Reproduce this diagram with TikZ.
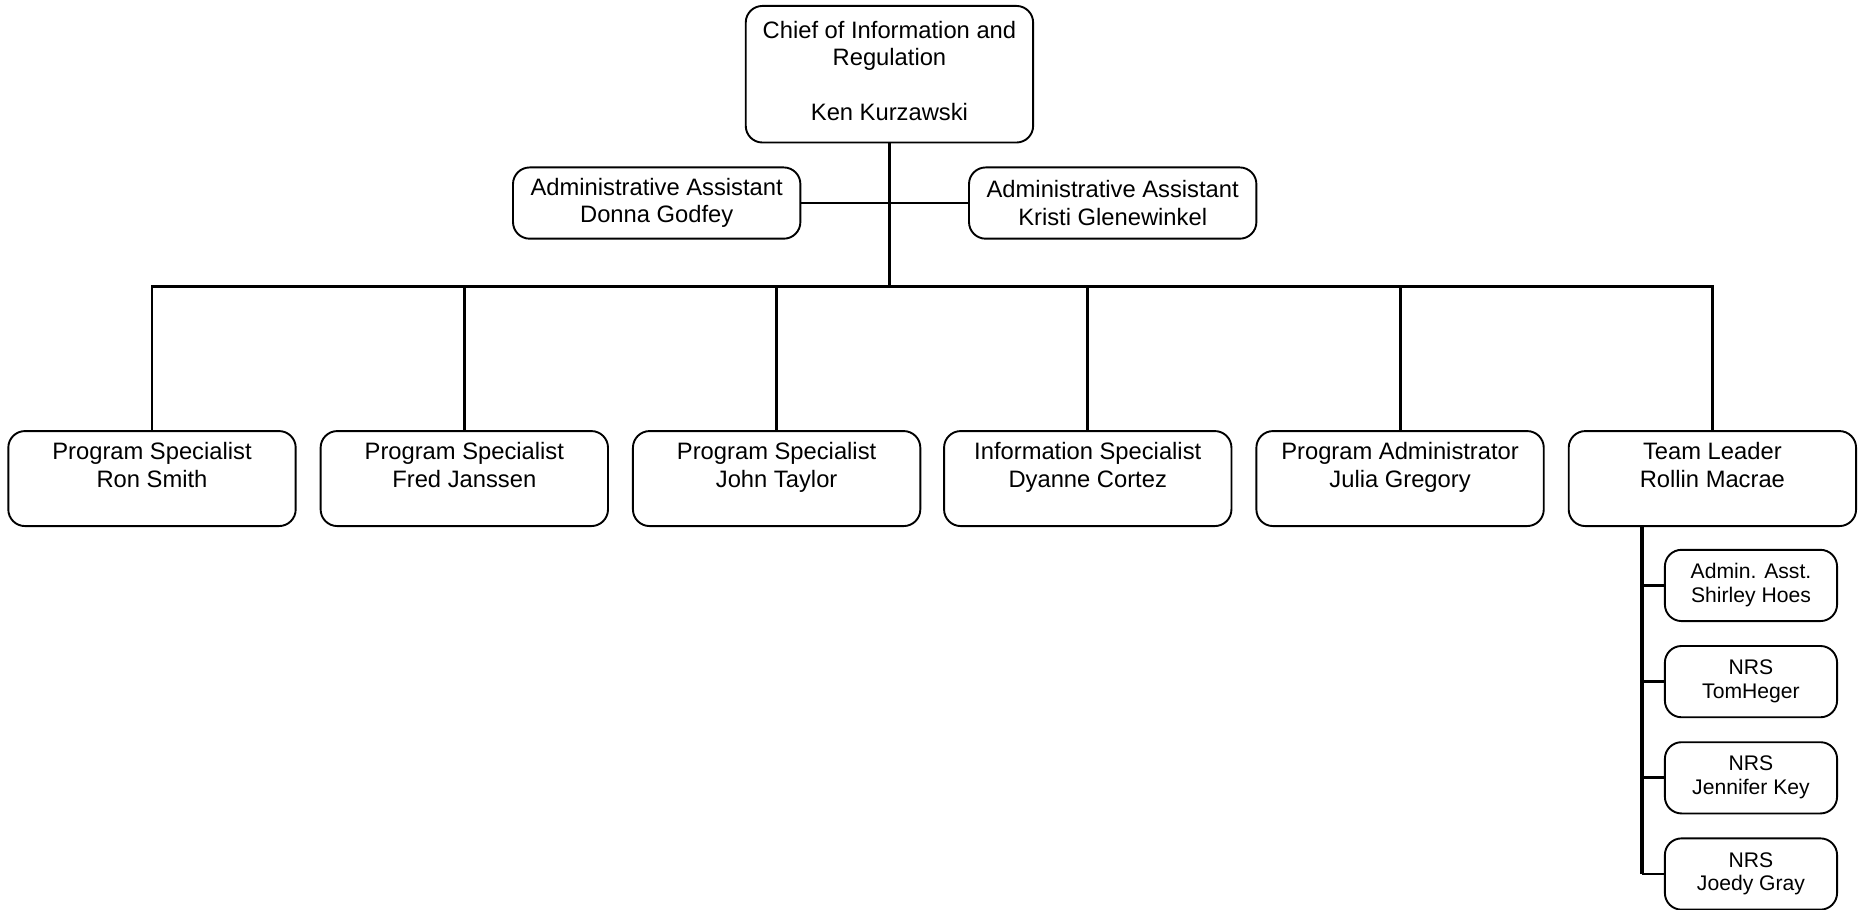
\documentclass[tikz,border=0pt]{standalone}
\usepackage{fontspec}
\setmainfont{Liberation Sans}
\begin{document}
\begin{tikzpicture}[x=0.5pt,y=-0.5pt,
  box/.style={draw, rounded corners=7pt, line width=0.8pt, align=center, inner sep=0pt, font=\fontsize{10}{11.5}\selectfont},
  big/.style={box, minimum width=121pt, minimum height=40pt},
  adm/.style={box, minimum width=121pt, minimum height=30pt},
  small/.style={box, minimum width=72.5pt, minimum height=30pt, font=\fontsize{8.9}{10}\selectfont},
  conn/.style={line width=1.2pt},
  trunk/.style={line width=1.6pt}]
\useasboundingbox (0,0) rectangle (1568,766);

\node[box, minimum width=121pt, minimum height=57.5pt] (chief) at (749,62.5)
  {Chief of Information and\\Regulation\\ \\Ken Kurzawski\rule[-3pt]{0pt}{0pt}};

\node[adm] (a1) at (553,171) {Administrative Assistant\\Donna Godfey};
\node[adm] (a2) at (937,171) {Administrative Assistant\\Kristi Glenewinkel};

\node[big] (p1) at (128,403) {Program Specialist\\Ron Smith\\ };
\node[big] (p2) at (391,403) {Program Specialist\\Fred Janssen\\ };
\node[big] (p3) at (654,403) {Program Specialist\\John Taylor\\ };
\node[big] (p4) at (916,403) {Information Specialist\\Dyanne Cortez\\ };
\node[big] (p5) at (1179,403) {Program Administrator\\Julia Gregory\\ };
\node[big] (p6) at (1442,403) {Team Leader\\Rollin Macrae\\ };

\node[small] (s1) at (1474.5,493) {Admin. Asst.\\Shirley Hoes\rule[-2pt]{0pt}{0pt}};
\node[small] (s2) at (1474.5,574) {NRS\\TomHeger\rule[-2pt]{0pt}{0pt}};
\node[small] (s3) at (1474.5,655) {NRS\\Jennifer Key\rule[-2pt]{0pt}{0pt}};
\node[small] (s4) at (1474.5,736) {NRS\\Joedy Gray\rule[-2pt]{0pt}{0pt}};

\coordinate (bar) at (749,241);
\coordinate (spine) at (1383,0);

\draw[trunk] (chief.south) -- (bar);
\draw[conn] (a1.east) -- (a2.west);
\draw[conn] (p1.north) -- (p1.north |- bar) -- (p6.north |- bar) -- (p6.north);
\draw[conn] (p2.north) -- (p2.north |- bar);
\draw[conn] (p3.north) -- (p3.north |- bar);
\draw[conn] (p4.north) -- (p4.north |- bar);
\draw[conn] (p5.north) -- (p5.north |- bar);

\draw[trunk] (spine |- p6.south) -- (spine |- s4.west);
\draw[conn] (spine |- s4.west) -- (s4.west);
\draw[conn] (spine |- s1.west) -- (s1.west);
\draw[conn] (spine |- s2.west) -- (s2.west);
\draw[conn] (spine |- s3.west) -- (s3.west);
\end{tikzpicture}
\end{document}
